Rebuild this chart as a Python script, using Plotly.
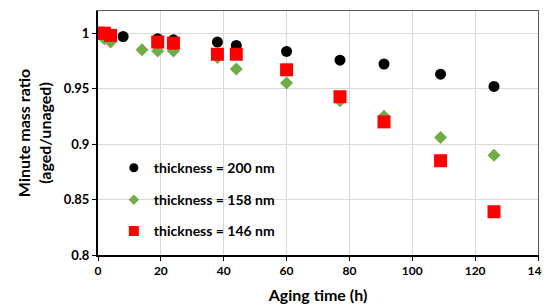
import plotly.graph_objects as go

# Data
t200 = [0, 2, 4, 8, 19, 24, 38, 44, 60, 77, 91, 109, 126]
m200 = [1.000, 0.999, 0.998, 0.997, 0.995, 0.994, 0.992, 0.989, 0.9835, 0.9757, 0.9722, 0.963, 0.952]

t158 = [0, 2, 4, 14, 19, 24, 38, 44, 60, 77, 91, 109, 126]
m158 = [1.000, 0.995, 0.992, 0.985, 0.984, 0.984, 0.978, 0.9676, 0.955, 0.939, 0.925, 0.906, 0.890]

t146 = [0, 2, 4, 19, 24, 38, 44, 60, 77, 91, 109, 126]
m146 = [1.000, 1.000, 0.998, 0.992, 0.991, 0.981, 0.981, 0.967, 0.9427, 0.920, 0.885, 0.839]

x_ticks = [0, 20, 40, 60, 80, 100, 120, 140]
y_ticks = [0.8, 0.85, 0.9, 0.95, 1.0]
y_labels = ["0.8", "0.85", "0.9", "0.95", "1"]

names = ["thickness = 200 nm", "thickness = 158 nm", "thickness = 146 nm"]
colors = ["black", "#70ad47", "#ff0000"]
symbols = ["circle", "diamond", "square"]

FONT = "Lato"

fig = go.Figure()
series = [(t200, m200, 11), (t158, m158, 10), (t146, m146, 13)]
for (tx, my, sz), nm, c, sym in zip(series, names, colors, symbols):
    fig.add_trace(go.Scatter(x=tx, y=my, mode="markers", name=nm, showlegend=False,
                             marker=dict(symbol=sym, size=sz, color=c)))

# legend-only entries (smaller symbols like the reference legend)
leg_sizes = [9, 8, 10]
for i, (nm, c, sym, ls) in enumerate(zip(names, colors, symbols, leg_sizes)):
    fig.add_trace(go.Scatter(x=[None], y=[None], mode="markers", name=nm, showlegend=True,
                             marker=dict(symbol=sym, size=ls, color=c),
                             legend="legend" if i == 0 else f"legend{i + 1}"))

leg_common = dict(font=dict(family=FONT, size=14, color="black", weight="bold"), bgcolor="rgba(0,0,0,0)",
                  xanchor="left", yanchor="middle", x=0.036, itemwidth=30, itemsizing="trace")
frame = dict(showline=True, linecolor="#595959", linewidth=1, showgrid=False, zeroline=False,
             showticklabels=False, ticks="")
fig.update_layout(
    width=550, height=297,
    showlegend=True,
    margin=dict(l=90, r=20, t=3, b=50, autoexpand=False),
    paper_bgcolor="white", plot_bgcolor="white",
    font=dict(family=FONT, color="black"),
    legend=dict(**leg_common, y=0.356),
    legend2=dict(**leg_common, y=0.225),
    legend3=dict(**leg_common, y=0.097),
    xaxis=dict(range=[0, 140], tickvals=x_ticks, showgrid=True, gridcolor="#d9d9d9", gridwidth=1,
               zeroline=False, showline=True, linecolor="black", linewidth=2, automargin=False,
               ticks="outside", ticklen=4, tickcolor="black", tickwidth=1, ticklabeloverflow="allow",
               tickfont=dict(family=FONT, size=12, color="black", weight="bold"),
               title=dict(text="<b>Aging time (h)</b>", font=dict(family=FONT, size=16), standoff=12)),
    yaxis=dict(range=[0.8, 1.02], tickvals=y_ticks, ticktext=y_labels, showgrid=True, gridcolor="#d9d9d9",
               gridwidth=1, zeroline=False, showline=True, linecolor="black", linewidth=2, automargin=False,
               ticks="outside", ticklen=4, tickcolor="black", tickwidth=1, ticklabeloverflow="allow",
               tickfont=dict(family=FONT, size=13, color="black", weight="bold"),
               title=dict(text="<b>Minute mass ratio<br>(aged/unaged)</b>", font=dict(family=FONT, size=16),
                          standoff=8)),
    xaxis2=dict(overlaying="x", side="top", range=[0, 140], **frame),
    yaxis2=dict(overlaying="y", side="right", range=[0.8, 1.02], **frame),
)
# empty trace that activates the frame axes (draws no marks)
fig.add_trace(go.Scatter(x=[], y=[], xaxis="x2", yaxis="y2", showlegend=False, hoverinfo="skip"))

fig.write_html("out.html")
